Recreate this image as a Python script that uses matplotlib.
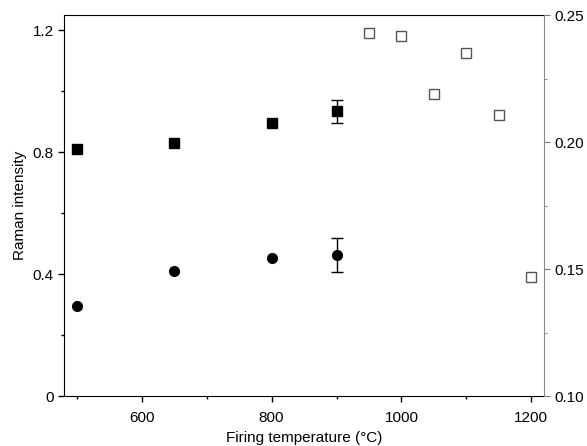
import matplotlib
matplotlib.use('Agg')
import matplotlib.pyplot as plt
from matplotlib.ticker import MultipleLocator

plt.rcParams['font.family'] = ['Liberation Sans', 'DejaVu Sans']

# filled squares / circles (left axis)
temp_filled = [500, 650, 800, 900]
sq_filled = [0.81, 0.83, 0.895, 0.935]
sq_err = [0, 0, 0, 0.038]
circ = [0.295, 0.41, 0.452, 0.463]
circ_err = [0, 0, 0, 0.055]

# open squares (right axis)
temp_open = [950, 1000, 1050, 1100, 1150, 1200]
sq_open = [0.243, 0.2417, 0.219, 0.235, 0.2106, 0.147]

fig = plt.figure(figsize=(5.87, 4.46), dpi=100)
ax = fig.add_axes([0.109, 0.112, 0.818, 0.854])

ax.plot(temp_filled, sq_filled, 's', color='black', ms=6.8)
ax.plot(temp_filled, circ, 'o', color='black', ms=7)
# only the points with a nonzero error get a bar
for ys, es in [(sq_filled, sq_err), (circ, circ_err)]:
    xs = [t for t, e in zip(temp_filled, es) if e > 0]
    yv = [y for y, e in zip(ys, es) if e > 0]
    ev = [e for e in es if e > 0]
    ax.errorbar(xs, yv, yerr=ev, fmt='none', ecolor='black',
                capsize=4.5, elinewidth=1, capthick=1)

ax.set_xlim(480, 1220)
ax.set_ylim(0, 1.25)
ax.set_xticks([600, 800, 1000, 1200])
ax.xaxis.set_minor_locator(MultipleLocator(100))
ax.set_yticks([0, 0.4, 0.8, 1.2])
ax.set_yticklabels(['0', '0.4', '0.8', '1.2'])
ax.yaxis.set_minor_locator(MultipleLocator(0.2))
ax.tick_params(which='major', direction='out', length=4, labelsize=11, width=1)
ax.tick_params(axis='x', which='major', pad=7)
ax.tick_params(which='minor', direction='out', length=2, width=1)
ax.set_xlabel('Firing temperature (°C)', fontsize=11, labelpad=4)
ax.set_ylabel('Raman intensity', fontsize=11, labelpad=4)
ax.spines['right'].set_visible(False)

ax2 = ax.twinx()
ax2.plot(temp_open, sq_open, 's', mfc='white', mec='#555555', mew=1, ms=7)
ax2.set_ylim(0.10, 0.25)
ax2.set_yticks([0.10, 0.15, 0.20, 0.25])
ax2.set_yticklabels(['0.10', '0.15', '0.20', '0.25'])
ax2.yaxis.set_minor_locator(MultipleLocator(0.025))
ax2.tick_params(which='major', direction='out', length=4, labelsize=11, color='#777777')
ax2.tick_params(which='minor', direction='out', length=2, color='#777777')
for s in ['left', 'bottom', 'top']:
    ax2.spines[s].set_visible(False)
ax2.spines['right'].set_color('#888888')

fig.savefig('out.png', dpi=100)
